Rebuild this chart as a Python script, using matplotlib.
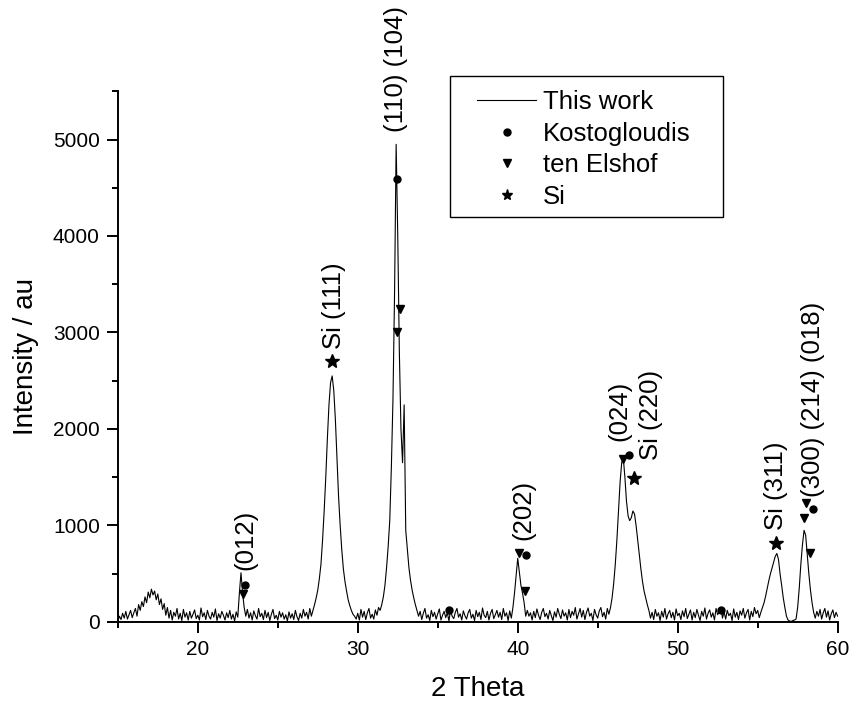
import numpy as np
import matplotlib
matplotlib.use("Agg")
import matplotlib.pyplot as plt
from matplotlib.ticker import MultipleLocator
from matplotlib.patches import Rectangle

plt.rcParams['font.family'] = ['Liberation Sans', 'DejaVu Sans']

# Measured pattern, sampled every 0.1 deg from 15.0 to 60.0 (2 Theta)
theta_start, theta_step = 15.0, 0.1
intensity = [
    10, 60, 25, 90, 40, 110, 30, 75, 120, 45,            # 15
    95, 140, 60, 180, 120, 210, 160, 260, 200, 310,      # 16
    250, 340, 280, 320, 230, 290, 180, 240, 130, 190,    # 17
    70, 150, 40, 120, 20, 100, 60, 140, 30, 90,          # 18
    15, 130, 50, 95, 20, 110, 40, 80, 125, 35,           # 19
    70, 20, 145, 55, 95, 25, 120, 60, 30, 100,           # 20
    50, 135, 15, 85, 40, 110, 70, 20, 95, 45,            # 21
    120, 30, 80, 10, 105, 50, 300, 510, 300, 150,        # 22
    60, 130, 40, 95, 20, 115, 65, 30, 140, 55,           # 23
    90, 25, 120, 45, 100, 15, 80, 130, 35, 70,           # 24
    20, 110, 50, 95, 30, 75, 10, 105, 40, 85,            # 25
    25, 120, 55, 15, 90, 40, 130, 60, 100, 30,           # 26
    140, 60, 120, 180, 250, 330, 450, 600, 850, 1150,    # 27
    1500, 1900, 2250, 2480, 2550, 2400, 2100, 1700, 1300, 1000,  # 28
    750, 550, 420, 320, 230, 170, 120, 80, 60, 30,       # 29
    90, 20, 130, 50, 110, 25, 95, 140, 40, 80,           # 30
    30, 125, 70, 150, 120, 180, 260, 380, 560, 780,      # 31
    1050, 1600, 2300, 3400, 4950, 4000, 2800, 2000, 1650, 2250,  # 32
    950, 750, 560, 430, 330, 250, 180, 120, 60, 110,     # 33
    25, 90, 140, 40, 75, 15, 120, 55, 100, 30,           # 34
    85, 135, 20, 70, 110, 45, 95, 10, 125, 60,           # 35
    35, 100, 140, 50, 85, 20, 115, 65, 30, 95,           # 36
    130, 40, 80, 15, 120, 55, 100, 25, 145, 70,          # 37
    45, 110, 20, 90, 130, 35, 75, 120, 50, 100,          # 38
    25, 140, 60, 95, 15, 115, 40, 150, 300, 480,         # 39
    660, 520, 380, 300, 200, 60, 120, 60, 95, 20,        # 40
    110, 45, 135, 70, 25, 100, 140, 55, 90, 30,          # 41
    120, 65, 15, 105, 50, 140, 80, 35, 125, 60,          # 42
    95, 20, 130, 45, 110, 70, 150, 30, 85, 140,          # 43
    50, 120, 25, 100, 145, 60, 90, 15, 130, 75,          # 44
    40, 115, 150, 55, 100, 30, 140, 80, 150, 250,        # 45
    400, 600, 850, 1150, 1450, 1650, 1700, 1500, 1250, 1100,  # 46
    1050, 1080, 1150, 1120, 1000, 850, 700, 550, 420, 320,    # 47
    250, 180, 120, 40, 100, 25, 130, 60, 95, 15,         # 48
    110, 50, 140, 30, 85, 120, 45, 100, 20, 135,         # 49
    65, 90, 25, 115, 55, 140, 35, 80, 125, 20,           # 50
    100, 45, 130, 70, 15, 110, 60, 145, 30, 90,          # 51
    125, 50, 95, 20, 140, 75, 110, 150, 40, 105,         # 52
    30, 120, 65, 90, 15, 135, 50, 100, 25, 115,          # 53
    70, 140, 40, 95, 130, 20, 110, 55, 150, 85,          # 54
    120, 45, 100, 150, 200, 270, 350, 430, 500, 560,     # 55
    620, 680, 710, 650, 500, 380, 250, 150, 60, 20,      # 56
    10, 5, 15, 20, 30, 150, 350, 600, 800, 950,          # 57
    900, 700, 500, 330, 200, 100, 40, 110, 60, 130,      # 58
    30, 95, 140, 50, 115, 20, 85, 125, 45, 100,          # 59
    60,                                                  # 60
]

# Reference peak positions
kosto_x = [22.95, 32.45, 35.7, 40.5, 46.95, 52.7, 58.46]
kosto_y = [385, 4590, 120, 690, 1735, 124, 1166]
elshof_x = [22.85, 32.45, 32.65, 40.05, 40.45, 46.6, 57.88, 58.0, 58.3]
elshof_y = [290, 3010, 3240, 710, 320, 1684, 1077, 1235, 711]
si_x = [28.4, 47.25, 56.13]
si_y = [2700, 1487, 815]

# Peak labels (x, y of the label's lower end)
label_text = ["(012)", "Si (111)", "(110) (104)", "(202)", "(024)",
              "Si (220)", "Si (311)", "(300) (214) (018)"]
label_x = [22.95, 28.5, 32.42, 40.33, 46.38, 48.35, 56.13, 58.46]
label_y = [540, 2830, 5080, 850, 1880, 1680, 950, 1300]

two_theta = theta_start + theta_step * np.arange(len(intensity))

fig = plt.figure(figsize=(8.6, 7.02), dpi=100)
ax = fig.add_axes([0.137, 0.114, 0.837, 0.756])

ax.plot(two_theta, intensity, color='black', linewidth=0.8, label='This work')
ax.plot(kosto_x, kosto_y, linestyle='none', marker='o', markersize=5,
        color='black', label='Kostogloudis')
ax.plot(elshof_x, elshof_y, linestyle='none', marker='v', markersize=5.5,
        color='black', label='ten Elshof')
ax.plot(si_x, si_y, linestyle='none', marker='*', markersize=10,
        color='black', label='Si')

for t, x, y in zip(label_text, label_x, label_y):
    ax.text(x, y, t, rotation=90, ha='center', va='bottom', fontsize=18.5,
            clip_on=False)

ax.set_xlim(15, 60)
ax.set_ylim(0, 5500)
ax.xaxis.set_major_locator(MultipleLocator(10))
ax.xaxis.set_minor_locator(MultipleLocator(5))
ax.yaxis.set_major_locator(MultipleLocator(1000))
ax.yaxis.set_minor_locator(MultipleLocator(500))

ax.spines['top'].set_visible(False)
ax.spines['right'].set_visible(False)
for s in ('left', 'bottom'):
    ax.spines[s].set_linewidth(1.4)
ax.tick_params(which='major', direction='out', length=8, width=1.4,
               labelsize=15, pad=5)
ax.tick_params(which='minor', direction='out', length=4, width=1.4)

ax.set_xlabel("2 Theta", fontsize=20, labelpad=12)
ax.set_ylabel("Intensity / au", fontsize=20, labelpad=10)

# legend entries without frame, frame drawn as a separate box
leg = ax.legend(loc='upper left', bbox_to_anchor=(477 / 860, 1 - 90 / 702),
                bbox_transform=fig.transFigure, fontsize=18.5, frameon=False,
                handlelength=2.3, handletextpad=0.25, labelspacing=0.3,
                borderpad=0, borderaxespad=0)
for line, ms in zip(leg.get_lines(), [5, 5, 5.5, 8]):
    line.set_markersize(ms)
fig.patches.append(Rectangle((450 / 860, 1 - 217 / 702), 273 / 860, 141 / 702,
                             transform=fig.transFigure, fill=False,
                             edgecolor='black', linewidth=1.0))

fig.savefig("out.png", dpi=100)
